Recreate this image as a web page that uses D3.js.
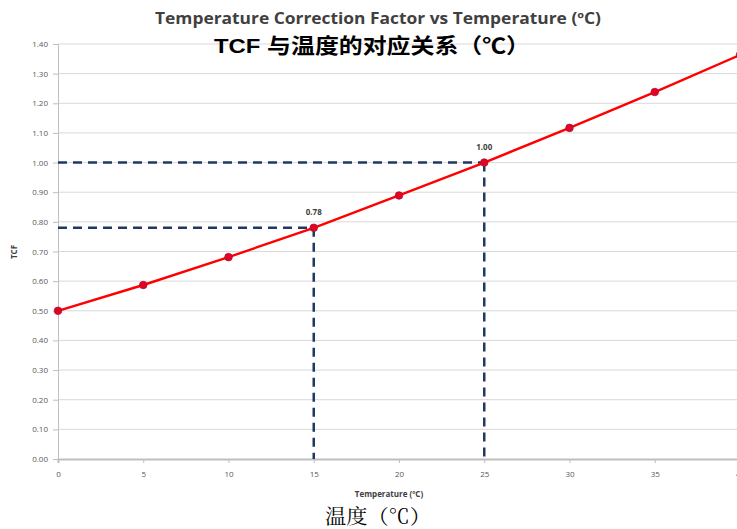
<!DOCTYPE html>
<html>
<head>
<meta charset="utf-8">
<script src="https://cdn.jsdelivr.net/npm/d3@7"></script>
<style>
  body { margin: 0; background: #fff; }
  svg { display: block; }
</style>
</head>
<body>
<svg width="737" height="529"></svg>
<script>
// data
var temps = [0, 5, 10, 15, 20, 25, 30, 35, 40];
var tcf = [0.50, 0.587, 0.681, 0.78, 0.889, 1.00, 1.117, 1.238, 1.363];
var xTicks = [0, 5, 10, 15, 20, 25, 30, 35, 40];
var yTicks = [0, 0.1, 0.2, 0.3, 0.4, 0.5, 0.6, 0.7, 0.8, 0.9, 1.0, 1.1, 1.2, 1.3, 1.4];
var markedTemps = [15, 25];
var markedLabels = ["0.78", "1.00"];

var svg = d3.select("svg"),
    margin = { top: 44, right: -3, bottom: 70, left: 58 },
    width = 737 - margin.left - margin.right,
    height = 529 - margin.top - margin.bottom;

var xAs = d3.scaleLinear().domain([0, 40]).range([0, width]),
    yAs = d3.scaleLinear().domain([0, 1.4]).range([height, 0]);

var groep = svg.append("g")
    .attr("transform", "translate(" + margin.left + "," + margin.top + ")");

// gridlines
groep.selectAll(".grid")
    .data(yTicks.slice(1))
    .enter().append("line")
    .attr("x1", 0).attr("x2", width)
    .attr("y1", function (d) { return yAs(d); })
    .attr("y2", function (d) { return yAs(d); })
    .attr("stroke", "#d9d9d9")
    .attr("stroke-width", 1);

// y axis
var yAxis = groep.append("g")
    .call(d3.axisLeft(yAs).tickValues(yTicks).tickSize(5).tickPadding(5).tickFormat(d3.format(".2f")));
yAxis.select(".domain").attr("stroke", "#bfbfbf");
yAxis.selectAll("line").attr("stroke", "#bfbfbf");
yAxis.selectAll("text").attr("fill", "#595959").style("font", "8px 'Open Sans', sans-serif");

// x axis
var xAxis = groep.append("g")
    .attr("transform", "translate(0," + height + ")")
    .call(d3.axisBottom(xAs).tickValues(xTicks).tickSize(4).tickPadding(8));
xAxis.select(".domain").attr("stroke", "#bfbfbf").attr("stroke-width", 2);
xAxis.selectAll("line").attr("stroke", "#bfbfbf");
xAxis.selectAll("text").attr("fill", "#595959").style("font", "8px 'Open Sans', sans-serif");

// gestippelde hulplijnen
var dash = markedTemps.map(function (t) {
    return { t: t, v: tcf[temps.indexOf(t)] };
});
dash.forEach(function (d) {
    groep.append("line")
        .attr("x1", 0).attr("x2", xAs(d.t))
        .attr("y1", yAs(d.v)).attr("y2", yAs(d.v))
        .attr("stroke", "#1f3864").attr("stroke-width", 2.5)
        .attr("stroke-dasharray", "9,6");
    groep.append("line")
        .attr("x1", xAs(d.t)).attr("x2", xAs(d.t))
        .attr("y1", yAs(d.v)).attr("y2", height)
        .attr("stroke", "#1f3864").attr("stroke-width", 2.5)
        .attr("stroke-dasharray", "9,6");
});

// rode lijn
var punten = temps.map(function (t, i) { return [t, tcf[i]]; });
groep.append("path")
    .datum(punten)
    .attr("fill", "none")
    .attr("stroke", "#ff0000")
    .attr("stroke-width", 2.4)
    .attr("d", d3.line()
        .x(function (d) { return xAs(d[0]); })
        .y(function (d) { return yAs(d[1]); }));

groep.selectAll(".punt")
    .data(punten)
    .enter().append("circle")
    .attr("cx", function (d) { return xAs(d[0]); })
    .attr("cy", function (d) { return yAs(d[1]); })
    .attr("r", 3.8)
    .attr("fill", "#e8001c")
    .attr("stroke", "#9b1b4a")
    .attr("stroke-width", 0.8);

// data labels
groep.selectAll(".label")
    .data(dash)
    .enter().append("text")
    .attr("x", function (d) { return xAs(d.t); })
    .attr("y", function (d) { return yAs(d.v) - 13; })
    .attr("text-anchor", "middle")
    .attr("fill", "#404040")
    .style("font", "bold 8px 'Open Sans', sans-serif")
    .text(function (d, i) { return markedLabels[i]; });

// titels
svg.append("text")
    .attr("x", 378).attr("y", 24)
    .attr("text-anchor", "middle")
    .attr("fill", "#404040")
    .style("font", "bold 15.5px 'Open Sans', sans-serif")
    .attr("textLength", 446)
    .attr("lengthAdjust", "spacingAndGlyphs")
    .text("Temperature Correction Factor vs Temperature (ºC)");

svg.append("text")
    .attr("x", 372).attr("y", 53)
    .attr("text-anchor", "middle")
    .attr("fill", "#000")
    .style("font", "bold 21px 'Liberation Sans', 'Noto Sans CJK SC', sans-serif")
    .attr("textLength", 316)
    .attr("lengthAdjust", "spacingAndGlyphs")
    .text("TCF 与温度的对应关系（℃）");

svg.append("text")
    .attr("transform", "translate(17,252) rotate(-90)")
    .attr("text-anchor", "middle")
    .attr("fill", "#404040")
    .style("font", "bold 8px 'Open Sans', sans-serif")
    .text("TCF");

svg.append("text")
    .attr("x", 389).attr("y", 497)
    .attr("text-anchor", "middle")
    .attr("fill", "#404040")
    .style("font", "bold 8px 'Open Sans', sans-serif")
    .text("Temperature (ºC)");

svg.append("text")
    .attr("x", 378).attr("y", 524)
    .attr("text-anchor", "middle")
    .attr("fill", "#000")
    .style("font", "20px 'Noto Serif CJK SC', 'Noto Sans CJK SC', serif")
    .attr("textLength", 106)
    .attr("lengthAdjust", "spacingAndGlyphs")
    .text("温度（℃）");
</script>
</body>
</html>
